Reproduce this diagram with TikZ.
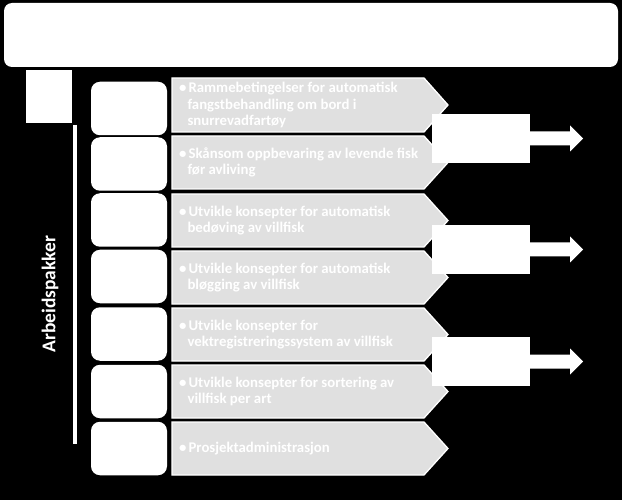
\documentclass[tikz,border=0pt]{standalone}
\usepackage{fontspec}
\setmainfont{Carlito}
\definecolor{pentgray}{RGB}{224,224,224}
\begin{document}
\begin{tikzpicture}[x=1pt,y=-1pt,
  wbox/.style={fill=white, rounded corners=9pt, inner sep=0pt, minimum width=76pt, minimum height=53.5pt},
  pent/.style={fill=pentgray, draw=white, line width=1.3pt},
  ptext/.style={text=white, font=\bfseries\fontsize{14.8}{16.3}\selectfont, align=left, anchor=west, inner sep=0pt},
  rbox/.style={fill=white, inner sep=0pt, minimum width=98pt, minimum height=49pt},
  rarrow/.style={fill=white}
]
% background
\fill[black] (0,0) rectangle (622,500);
\useasboundingbox (0,0) rectangle (622,500);

% top banner
\node[fill=white, rounded corners=8pt, inner sep=0pt, minimum width=614pt, minimum height=64pt] (top) at (311,35) {};

% small square and vertical line
\node[fill=white, inner sep=0pt, minimum width=46pt, minimum height=53pt] (sq) at (49,96.5) {};
\coordinate (ltop) at (75,125);
\coordinate (lbot) at (75,444);
\draw[white, line width=4pt] (ltop) -- (lbot);
\node[text=white, font=\bfseries\fontsize{19.5}{22}\selectfont, rotate=90, inner sep=0pt] (arb) at (50,294) {Arbeidspakker};

% left rounded boxes
\foreach \c [count=\i] in {108.5,164,220,276.5,334,391.5,448.5}{
  \node[wbox] (b\i) at (129,\c) {};
}

% pentagons
\foreach \t/\b [count=\i] in {78/132,136/189,194/247,251/304,308/361,365/418,422/475}{
  \draw[pent] (172,\t) -- (424,\t) -- (448,{(\t+\b)/2}) -- (424,\b) -- (172,\b) -- cycle;
}

% texts
\node[ptext] (t1) at (179,105) {\textbullet\hspace{2pt}Rammebetingelser for automatisk\\\hspace*{8.3pt}fangstbehandling om bord i\\\hspace*{8.3pt}snurrevadfartøy};
\node[ptext] (t2) at (179,162.5) {\textbullet\hspace{2pt}Skånsom oppbevaring av levende fisk\\\hspace*{8.3pt}før avliving};
\node[ptext] (t3) at (179,220.5) {\textbullet\hspace{2pt}Utvikle konsepter for automatisk\\\hspace*{8.3pt}bedøving av villfisk};
\node[ptext] (t4) at (179,277.5) {\textbullet\hspace{2pt}Utvikle konsepter for automatisk\\\hspace*{8.3pt}bløgging av villfisk};
\node[ptext] (t5) at (179,334.5) {\textbullet\hspace{2pt}Utvikle konsepter for\\\hspace*{8.3pt}vektregistreringssystem av villfisk};
\node[ptext] (t6) at (179,391.5) {\textbullet\hspace{2pt}Utvikle konsepter for sortering av\\\hspace*{8.3pt}villfisk per art};
\node[ptext] (t7) at (179,448.5) {\textbullet\hspace{2pt}Prosjektadministrasjon};

% right boxes with arrows
\foreach \c [count=\i] in {138.5,249.5,361.5}{
  \fill[rarrow] (525,\c-7) -- (570,\c-7) -- (570,\c-13) -- (583,\c) -- (570,\c+13) -- (570,\c+7) -- (525,\c+7) -- cycle;
  \node[rbox] (r\i) at (481,\c) {};
}
\end{tikzpicture}
\end{document}
